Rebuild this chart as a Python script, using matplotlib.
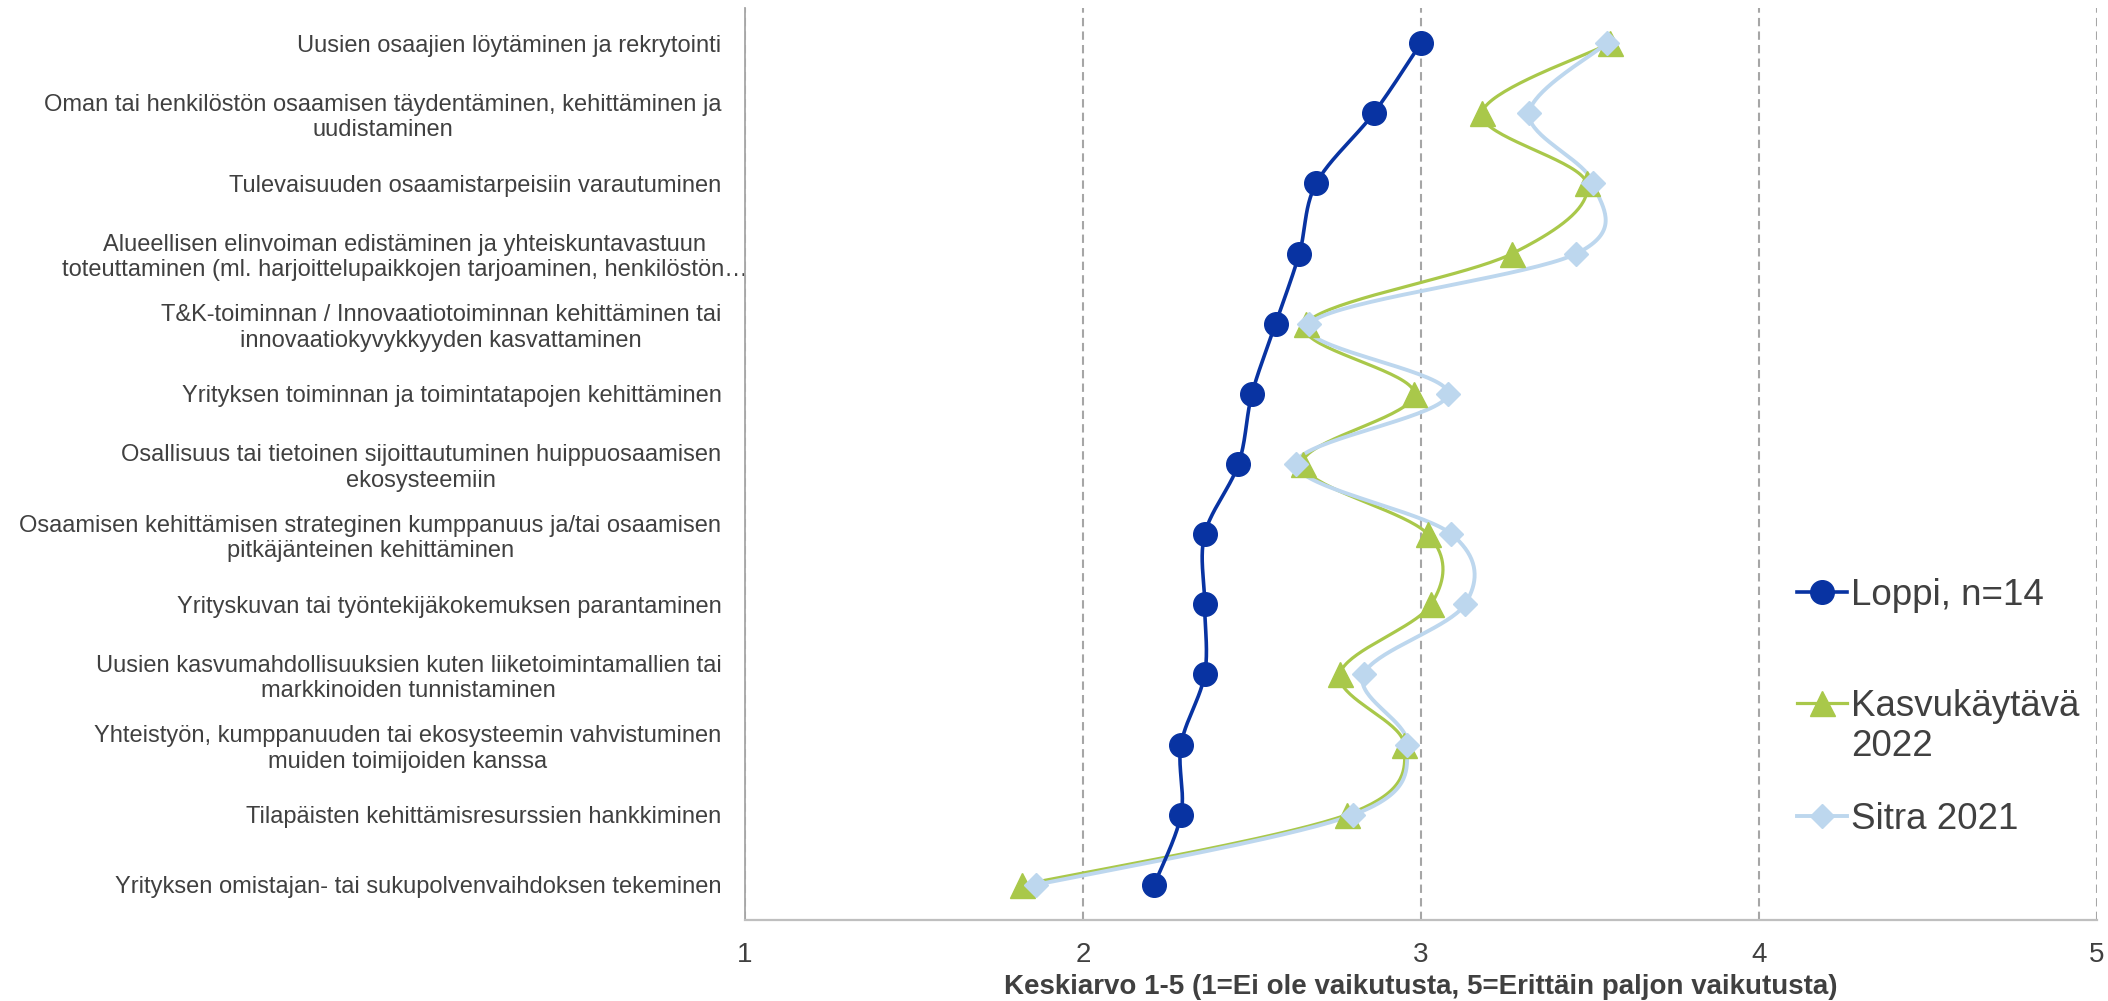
import numpy as np
import matplotlib
matplotlib.use("Agg")
import matplotlib.pyplot as plt
import matplotlib.transforms as mtransforms
from matplotlib.lines import Line2D
from matplotlib.legend_handler import HandlerLine2D

# ---------------- data ----------------
categories = [
    "Uusien osaajien löytäminen ja rekrytointi",
    "Oman tai henkilöstön osaamisen täydentäminen, kehittäminen ja\nuudistaminen",
    "Tulevaisuuden osaamistarpeisiin varautuminen",
    "Alueellisen elinvoiman edistäminen ja yhteiskuntavastuun\ntoteuttaminen (ml. harjoittelupaikkojen tarjoaminen, henkilöstön…",
    "T&K-toiminnan / Innovaatiotoiminnan kehittäminen tai\ninnovaatiokyvykkyyden kasvattaminen",
    "Yrityksen toiminnan ja toimintatapojen kehittäminen",
    "Osallisuus tai tietoinen sijoittautuminen huippuosaamisen\nekosysteemiin",
    "Osaamisen kehittämisen strateginen kumppanuus ja/tai osaamisen\npitkäjänteinen kehittäminen",
    "Yrityskuvan tai työntekijäkokemuksen parantaminen",
    "Uusien kasvumahdollisuuksien kuten liiketoimintamallien tai\nmarkkinoiden tunnistaminen",
    "Yhteistyön, kumppanuuden tai ekosysteemin vahvistuminen\nmuiden toimijoiden kanssa",
    "Tilapäisten kehittämisresurssien hankkiminen",
    "Yrityksen omistajan- tai sukupolvenvaihdoksen tekeminen",
]
loppi = [3.00, 2.86, 2.69, 2.64, 2.57, 2.50, 2.46, 2.36, 2.36, 2.36, 2.29, 2.29, 2.21]
kasvu = [3.56, 3.18, 3.49, 3.27, 2.66, 2.98, 2.65, 3.02, 3.03, 2.76, 2.95, 2.78, 1.82]
sitra = [3.55, 3.32, 3.51, 3.46, 2.67, 3.08, 2.63, 3.09, 3.13, 2.83, 2.96, 2.80, 1.86]
x_ticks = [1, 2, 3, 4, 5]
series_labels = ["Loppi, n=14", "Kasvukäytävä\n2022", "Sitra 2021"]
x_label = "Keskiarvo 1-5 (1=Ei ole vaikutusta, 5=Erittäin paljon vaikutusta)"

# ---------------- style ----------------
plt.rcParams["font.family"] = ["Liberation Sans", "DejaVu Sans"]
TXT = "#404040"
C_LOPPI = "#0833A2"
C_KASVU = "#A9C84A"
C_SITRA = "#BDD7EE"

W, H, DPI = 2108, 1001, 100
fig = plt.figure(figsize=(W / DPI, H / DPI), dpi=DPI)
ax = fig.add_axes([745 / W, 81 / H, 1352 / W, 912 / H])
ax.set_xlim(1, 5)
ax.set_ylim(12.5, -0.5)

rows = np.arange(len(categories))


def smooth(xs, ys, n=40):
    """Excel-like smoothed line: cubic Bezier through points in display space."""
    P = ax.transData.transform(np.column_stack([xs, ys]))
    N = len(P)
    out = [P[0]]
    t = np.linspace(0, 1, n)[1:, None]
    for i in range(N - 1):
        p0 = P[i - 1] if i > 0 else P[i]
        p1, p2 = P[i], P[i + 1]
        p3 = P[i + 2] if i + 2 < N else P[i + 1]
        c1 = p1 + (p2 - p0) / 6.0
        c2 = p2 - (p3 - p1) / 6.0
        seg = ((1 - t) ** 3) * p1 + 3 * ((1 - t) ** 2) * t * c1 + 3 * (1 - t) * t ** 2 * c2 + t ** 3 * p2
        out.extend(seg)
    out = ax.transData.inverted().transform(np.array(out))
    return out[:, 0], out[:, 1]


# lines
sx, sy = smooth(kasvu, rows)
ax.plot(sx, sy, color=C_KASVU, lw=2.3, zorder=3, solid_capstyle="round")
sx, sy = smooth(sitra, rows)
ax.plot(sx, sy, color=C_SITRA, lw=2.8, zorder=3.1, solid_capstyle="round")
sx, sy = smooth(loppi, rows)
ax.plot(sx, sy, color=C_LOPPI, lw=2.6, zorder=3.2, solid_capstyle="round")

# markers
ax.plot(kasvu, rows, linestyle="none", marker="^", ms=18, color=C_KASVU, mec=C_KASVU, zorder=4)
ax.plot(sitra, rows, linestyle="none", marker="D", ms=12.5, color=C_SITRA, mec=C_SITRA, zorder=4.1)
ax.plot(loppi, rows, linestyle="none", marker="o", ms=17, color=C_LOPPI, mec=C_LOPPI, zorder=4.2)

# axes styling
ax.set_xticks(x_ticks)
ax.set_xticklabels([str(v) for v in x_ticks])
ax.set_yticks(rows)
ax.set_yticklabels(categories)
for lab in ax.get_yticklabels():
    lab.set_multialignment("center")
ax.grid(axis="x", color="#a6a6a6", linestyle=(0, (4, 2.5)), lw=1.5, zorder=1)
ax.grid(axis="y", visible=False)
ax.set_axisbelow(True)
for s in ["top", "right"]:
    ax.spines[s].set_visible(False)
ax.spines["left"].set_color("#a6a6a6")
ax.spines["left"].set_linewidth(1.3)
ax.spines["bottom"].set_color("#bfbfbf")
ax.spines["bottom"].set_linewidth(1.6)
ax.tick_params(axis="x", length=0, pad=16, labelsize=20, labelcolor=TXT)
ax.tick_params(axis="y", length=0, pad=17, labelsize=17, labelcolor=TXT)
ax.set_xlabel(x_label, fontsize=20, fontweight="bold", color=TXT, labelpad=4)

# long truncated label overflows to the right in the reference
ylabs = ax.get_yticklabels()
ylabs[3].set_transform(ylabs[3].get_transform() + mtransforms.ScaledTranslation(26 / DPI, 0, fig.dpi_scale_trans))


# ---------------- legend ----------------
class ShiftUpHandler(HandlerLine2D):
    def __init__(self, lines_up=1.0, **kw):
        super().__init__(**kw)
        self.lines_up = lines_up

    def create_artists(self, legend, orig_handle, xdescent, ydescent, width, height, fontsize, trans):
        return super().create_artists(legend, orig_handle, xdescent,
                                      ydescent - 2 * 1.2 * fontsize * self.lines_up,
                                      width, height, fontsize, trans)


h_loppi = Line2D([], [], color=C_LOPPI, lw=2.6, marker="o", ms=17)
h_kasvu = Line2D([], [], color=C_KASVU, lw=2.3, marker="^", ms=18)
h_sitra = Line2D([], [], color=C_SITRA, lw=2.8, marker="D", ms=12.5)

legend_y = [591, 702, 815]
handles = [h_loppi, h_kasvu, h_sitra]
for i, (h, lab, yy) in enumerate(zip(handles, series_labels, legend_y)):
    hm = {h: ShiftUpHandler(0.56)} if "\n" in lab else None
    leg = ax.legend([h], [lab], loc="upper left",
                    bbox_to_anchor=(1797 / W, 1 - (yy - 13) / H),
                    bbox_transform=fig.transFigure, frameon=False, fontsize=26.5,
                    handlelength=1.35, handletextpad=0.12, borderpad=0, borderaxespad=0,
                    labelcolor=TXT, handler_map=hm)
    if i < len(handles) - 1:
        ax.add_artist(leg)

fig.savefig("out.png", dpi=DPI)
